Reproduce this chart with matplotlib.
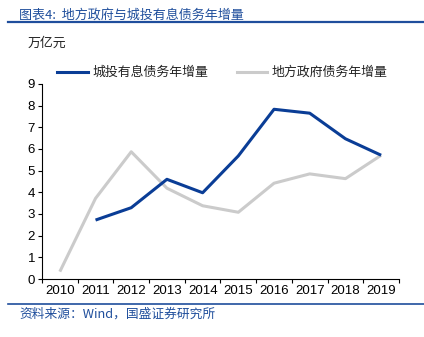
import matplotlib
matplotlib.use("Agg")
import matplotlib.pyplot as plt
from matplotlib.lines import Line2D

plt.rcParams["font.family"] = ["Liberation Sans", "Noto Sans CJK SC", "DejaVu Sans"]

years = ["2010", "2011", "2012", "2013", "2014", "2015", "2016", "2017", "2018", "2019"]
# 城投有息债务年增量 (no value for 2010)
chengtou = [None, 2.72, 3.29, 4.60, 3.98, 5.68, 7.83, 7.65, 6.47, 5.71]
# 地方政府债务年增量
difang = [0.34, 3.72, 5.87, 4.19, 3.38, 3.08, 4.42, 4.85, 4.63, 5.71]

blue = "#0A3D96"
gray = "#CBCBCB"
title_blue = "#1F4E9C"

fig = plt.figure(figsize=(4.24, 3.37), dpi=100)
ax = fig.add_axes([0.099, 0.172, 0.842, 0.579])

x = list(range(len(years)))
xs_ct = [i for i, v in zip(x, chengtou) if v is not None]
ys_ct = [v for v in chengtou if v is not None]
ax.plot(x, difang, color=gray, lw=2.2, solid_capstyle="butt")
ax.plot(xs_ct, ys_ct, color=blue, lw=2.2, solid_capstyle="butt")

ax.set_xlim(-0.5, len(years) - 0.5)
ax.set_ylim(0, 9)
ax.set_yticks(range(0, 10))
ax.set_xticks([i - 0.5 for i in range(len(years) + 1)])
ax.set_xticklabels([])
ax.set_xticks(x, minor=True)
ax.set_xticklabels(years, minor=True)
ax.tick_params(axis="x", which="minor", length=0, labelsize=9.5, pad=4)
ax.tick_params(axis="x", which="major", length=3, width=0.8, direction="out")
ax.tick_params(axis="y", length=3, width=0.8, labelsize=9.5, pad=2)
for s in ["top", "right"]:
    ax.spines[s].set_visible(False)
for s in ["left", "bottom"]:
    ax.spines[s].set_linewidth(0.8)

cjk = ["Noto Sans CJK SC", "DejaVu Sans"]
fig.text(0.045, 0.975, "图表4:  地方政府与城投有息债务年增量", family=cjk,
         fontsize=9.4, color=title_blue, style="italic", va="top")
fig.add_artist(Line2D([0.02, 1.0], [0.934, 0.934], color="#1F4E9C", lw=1.6))
fig.text(0.066, 0.872, "万亿元", family=cjk, fontsize=9.3, color="#222222", va="center")

# legend drawn manually to sit above the axes
fig.add_artist(Line2D([0.135, 0.207], [0.786, 0.786], color=blue, lw=2.2))
fig.text(0.218, 0.786, "城投有息债务年增量", family=cjk, fontsize=9.3, color="#222222", va="center")
fig.add_artist(Line2D([0.559, 0.630], [0.786, 0.786], color=gray, lw=2.2))
fig.text(0.641, 0.786, "地方政府债务年增量", family=cjk, fontsize=9.3, color="#222222", va="center")

fig.add_artist(Line2D([0.02, 1.0], [0.098, 0.098], color="#1F4E9C", lw=1.2))
fig.text(0.045, 0.069, "资料来源：Wind，国盛证券研究所", family=cjk,
         fontsize=9.2, color=title_blue, style="italic", va="center")

fig.savefig("out.png", dpi=100)
